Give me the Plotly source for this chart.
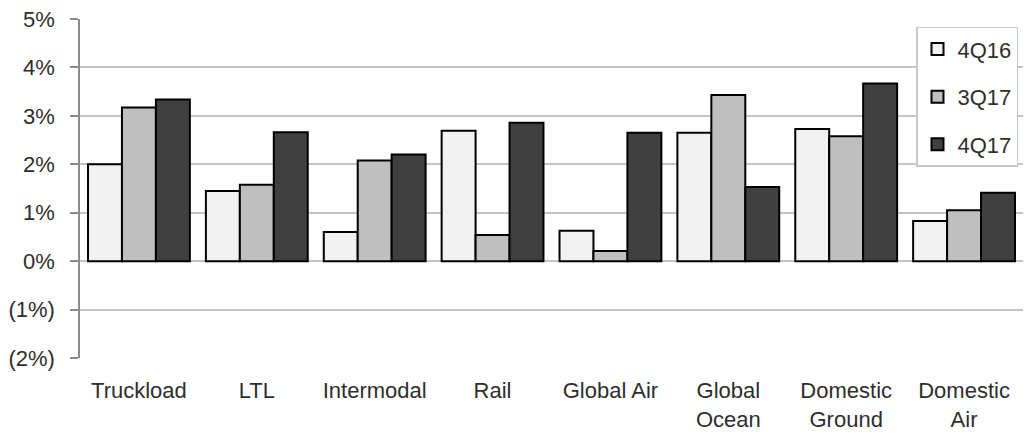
import plotly.graph_objects as go

categories = ["Truckload", "LTL", "Intermodal", "Rail", "Global Air",
              "Global<br>Ocean", "Domestic<br>Ground", "Domestic<br>Air"]
series_names = ["4Q16", "3Q17", "4Q17"]
v_4q16 = [2.00, 1.45, 0.60, 2.69, 0.63, 2.65, 2.73, 0.83]
v_3q17 = [3.17, 1.58, 2.08, 0.54, 0.21, 3.43, 2.58, 1.05]
v_4q17 = [3.34, 2.66, 2.20, 2.86, 2.65, 1.53, 3.67, 1.41]
colors = ["#f2f2f2", "#bfbfbf", "#404040"]
y_tickvals = [5, 4, 3, 2, 1, 0, -1, -2]
y_ticktext = ["5%", "4%", "3%", "2%", "1%", "0%", "(1%)", "(2%)"]

FONT = "Liberation Sans, Arial, sans-serif"
TXT = "#2e2e2e"
FS = 22

fig = go.Figure()
for name, vals, col in zip(series_names, [v_4q16, v_3q17, v_4q17], colors):
    fig.add_trace(go.Bar(
        x=categories, y=vals, name=name, legendgroup=name,
        marker=dict(color=col, line=dict(color="#000000", width=2)),
    ))

n = len(categories)
fig.update_layout(
    width=1026, height=435,
    margin=dict(l=80, r=3, t=19, b=77, autoexpand=False),
    paper_bgcolor="white", plot_bgcolor="white",
    barmode="group", bargap=0.136, bargroupgap=0,
    font=dict(family=FONT, size=FS, color=TXT),
    showlegend=True,
    legend=dict(
        x=0.9947, y=0.977, xanchor="right", yanchor="top",
        bgcolor="white", bordercolor="#c8c8c8", borderwidth=1.5,
        font=dict(family=FONT, size=FS, color=TXT),
        tracegroupgap=16, itemwidth=30,
    ),
    xaxis=dict(
        type="category", range=[-0.5, n - 0.5], automargin=False,
        showline=False, showgrid=False, ticks="",
        tickfont=dict(family=FONT, size=FS, color=TXT),
        ticklabelstandoff=17,
    ),
    xaxis2=dict(
        overlaying="x", anchor="free", position=2 / 7, automargin=False,
        range=[-0.5, n - 0.5], showgrid=False, zeroline=False,
        showline=True, linecolor="#8c8c8c", linewidth=1.5,
        ticks="outside", ticklen=8, tickwidth=1.5, tickcolor="#8c8c8c",
        tickvals=[i + 0.5 for i in range(n)], showticklabels=False,
        side="bottom",
    ),
    yaxis=dict(
        range=[-2, 5], tickvals=y_tickvals, ticktext=y_ticktext,
        automargin=False,
        showgrid=True, gridcolor="#c4c4c4", gridwidth=1.5,
        zeroline=False,
        showline=True, linecolor="#8c8c8c", linewidth=1.5,
        ticks="outside", ticklen=8, tickwidth=1.5, tickcolor="#8c8c8c",
        tickfont=dict(family=FONT, size=FS, color=TXT),
        ticklabelstandoff=11,
    ),
)

fig.write_html("out.html", config={"displayModeBar": False},
               post_script="document.body.style.margin='0';document.body.style.overflow='hidden';")
